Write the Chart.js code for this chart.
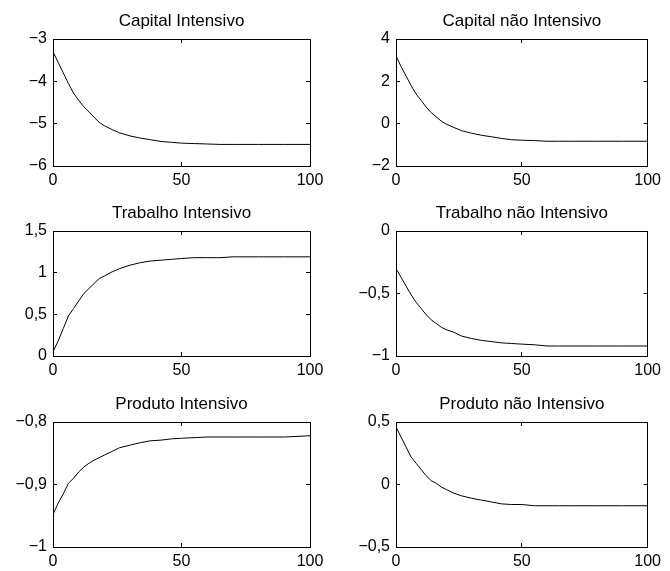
<!DOCTYPE html>
<html>
<head>
<meta charset="utf-8">
<script src="https://cdn.jsdelivr.net/npm/chart.js@4/dist/chart.umd.min.js"></script>
<style>
  html, body { margin: 0; padding: 0; background: #fff; }
  #wrap { position: relative; width: 670px; height: 571px; overflow: hidden; }
  .panel { position: absolute; }
</style>
</head>
<body>
<div id="wrap"></div>
<script>
const periods = [0, 2, 4, 6, 8, 10, 12, 14, 16, 18, 20, 23, 26, 30, 34, 38, 42, 46, 50, 55, 60, 65, 70, 80, 90, 100]

const capitalInt = [-3.30, -3.55, -3.80, -4.05, -4.28, -4.45, -4.60, -4.72, -4.85, -4.97, -5.05,
  -5.14, -5.22, -5.29, -5.34, -5.38, -5.42, -5.44, -5.46, -5.47, -5.48, -5.49, -5.49, -5.49, -5.49, -5.49]
const capitalNao = [3.20, 2.70, 2.25, 1.80, 1.40, 1.10, 0.78, 0.52, 0.32, 0.12, -0.02,
  -0.18, -0.33, -0.45, -0.55, -0.62, -0.70, -0.76, -0.78, -0.80, -0.83, -0.83, -0.83, -0.83, -0.83, -0.83]
const trabalhoInt = [0.05, 0.18, 0.33, 0.48, 0.57, 0.66, 0.75, 0.81, 0.87, 0.93, 0.96,
  1.01, 1.05, 1.09, 1.12, 1.14, 1.15, 1.16, 1.17, 1.18, 1.18, 1.18, 1.19, 1.19, 1.19, 1.19]
const trabalhoNao = [-0.30, -0.37, -0.44, -0.51, -0.57, -0.62, -0.67, -0.71, -0.74, -0.77, -0.79,
  -0.81, -0.84, -0.86, -0.875, -0.885, -0.895, -0.90, -0.905, -0.91, -0.92, -0.92, -0.92, -0.92, -0.92, -0.92]
const produtoInt = [-0.948, -0.930, -0.915, -0.898, -0.890, -0.880, -0.872, -0.866, -0.861, -0.857, -0.853,
  -0.847, -0.841, -0.837, -0.833, -0.830, -0.829, -0.827, -0.826, -0.825, -0.824, -0.824, -0.824, -0.824, -0.824, -0.822]
const produtoNao = [0.46, 0.38, 0.30, 0.22, 0.17, 0.12, 0.07, 0.03, 0.01, -0.02, -0.04,
  -0.07, -0.09, -0.11, -0.125, -0.14, -0.155, -0.16, -0.16, -0.17, -0.17, -0.17, -0.17, -0.17, -0.17, -0.17]

const titles = ['Capital Intensivo', 'Capital não Intensivo', 'Trabalho Intensivo',
  'Trabalho não Intensivo', 'Produto Intensivo', 'Produto não Intensivo']
const series = [capitalInt, capitalNao, trabalhoInt, trabalhoNao, produtoInt, produtoNao]
const yMin = [-6, -2, 0, -1, -1, -0.5]
const yMax = [-3, 4, 1.5, 0, -0.8, 0.5]
const yStep = [1, 2, 0.5, 0.5, 0.1, 0.5]
const xTicks = [0, 50, 100]

const FONT = 'Liberation Sans, Arial, Helvetica, sans-serif'
const colLeft = [0, 343]
const colWidth = [335, 327]
const rowTop = [0, 192, 383]
const rowXAxisH = [24, 26, 26]
const canvasH = 190
const yAxisW = 53

const fmt = v => {
  const r = Math.round(v * 10) / 10
  return String(r).replace('.', ',').replace('-', '\u2212')
}

const inwardGrid = { display: true, drawOnChartArea: false, drawTicks: true, tickLength: -4, color: '#000', lineWidth: 1 }
const box = { display: true, color: '#000', width: 1 }

series.forEach((vals, i) => {
  const col = i % 2
  const row = Math.floor(i / 2)
  const div = document.createElement('div')
  div.className = 'panel'
  div.style.left = colLeft[col] + 'px'
  div.style.top = rowTop[row] + 'px'
  div.style.width = colWidth[col] + 'px'
  div.style.height = canvasH + 'px'
  const canvas = document.createElement('canvas')
  div.appendChild(canvas)
  document.getElementById('wrap').appendChild(div)

  new Chart(canvas.getContext('2d'), {
    type: 'line',
    data: {
      datasets: [{
        data: periods.map((t, k) => ({ x: t, y: vals[k] })),
        borderColor: '#000',
        borderWidth: 1,
        pointRadius: 0,
        tension: 0,
        fill: false,
      }],
    },
    options: {
      responsive: true,
      maintainAspectRatio: false,
      animation: false,
      layout: { padding: { left: 0, top: 0, right: colWidth[col] - 310, bottom: 0 } },
      plugins: {
        legend: { display: false },
        tooltip: { enabled: false },
        title: {
          display: true,
          fullSize: false,
          text: titles[i],
          color: '#000',
          font: { family: FONT, size: 17, weight: 'normal', lineHeight: 1.2 },
          padding: { top: 11, bottom: 7.6 },
        },
      },
      scales: {
        x: {
          type: 'linear', position: 'bottom', min: 0, max: 100,
          afterBuildTicks: s => { s.ticks = xTicks.map(v => ({ value: v })) },
          afterFit: s => { s.height = rowXAxisH[row] },
          grid: inwardGrid, border: box,
          ticks: { color: '#000', font: { family: FONT, size: 16 }, padding: 9, maxRotation: 0 },
        },
        x2: {
          type: 'linear', position: 'top', min: 0, max: 100,
          afterBuildTicks: s => { s.ticks = xTicks.map(v => ({ value: v })) },
          afterFit: s => { s.height = 0 },
          grid: inwardGrid, border: box,
          ticks: { display: false },
        },
        y: {
          type: 'linear', position: 'left', min: yMin[i], max: yMax[i],
          afterFit: s => { s.width = yAxisW },
          grid: inwardGrid, border: box,
          ticks: { color: '#000', font: { family: FONT, size: 16 }, padding: 10, stepSize: yStep[i], callback: fmt },
        },
        y2: {
          type: 'linear', position: 'right', min: yMin[i], max: yMax[i],
          afterFit: s => { s.width = 0 },
          grid: inwardGrid, border: box,
          ticks: { display: false, stepSize: yStep[i] },
        },
      },
    },
  })
})
</script>
</body>
</html>
